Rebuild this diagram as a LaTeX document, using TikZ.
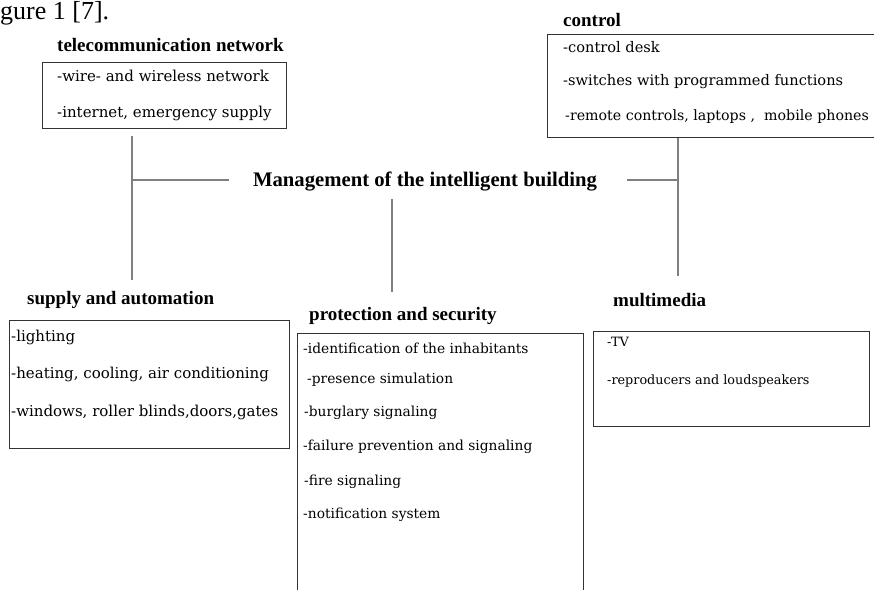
\documentclass[tikz,border=0pt]{standalone}
\usepackage{fontspec}
\setmainfont{Liberation Serif}
\newfontfamily\bodyfont{DejaVu Serif}
\begin{document}
\begin{tikzpicture}[x=1pt,y=-1pt,
  frame/.style={draw=black!80, line width=1.1pt, inner sep=0pt, anchor=north west},
  link/.style={draw=black!50, line width=2.7pt},
  head/.style={font=\fontsize{19}{19}\selectfont\bfseries, inner sep=0pt, anchor=mid west, yshift=-4pt},
  item/.style={font=\bodyfont\fontsize{#1}{#1}\selectfont, inner sep=0pt, anchor=mid west, yshift=-2.5pt},
  title/.style={font=\fontsize{20.7}{21}\selectfont\bfseries, inner sep=0pt, anchor=mid, yshift=-4pt},
]
\useasboundingbox (0,0) rectangle (874,589);

% caption remnant at the top edge
\node[font=\fontsize{26}{26}\selectfont, inner sep=0pt, anchor=base west] (cap) at (0,19) {gure 1 [7].};

% central title
\node[title] (main) at (425,180) {Management of the intelligent building};

% telecommunication network
\node[head] (telhd) at (57,45) {telecommunication network};
\node[frame, minimum width=244pt, minimum height=66pt] (telbox) at (42,62) {};
\node[item=15] (tel1) at (57,77) {-wire- and wireless network};
\node[item=15] (tel2) at (57,113) {-internet, emergency supply};

% control
\node[head] (ctlhd) at (563,20) {control};
\node[frame, minimum width=350pt, minimum height=103pt] (ctlbox) at (547,34) {};
\node[item=14.6] (ctl1) at (563,48) {-control desk};
\node[item=14.6] (ctl2) at (563,81) {-switches with programmed functions};
\node[item=14.2] (ctl3) at (565,116) {-remote controls, laptops ,\ \ mobile phones};

% supply and automation
\node[head] (suphd) at (27,298) {supply and automation};
\node[frame, minimum width=280pt, minimum height=128pt] (supbox) at (9,320) {};
\node[item=15] (sup1) at (11,337) {-lighting};
\node[item=15] (sup2) at (11,374) {-heating, cooling, air conditioning};
\node[item=15] (sup3) at (11,412) {-windows, roller blinds,doors,gates};

% protection and security
\node[head] (prohd) at (309,314) {protection and security};
\node[frame, minimum width=286pt, minimum height=280pt] (probox) at (297,333) {};
\node[item=13.8] (pro1) at (303,349) {-identification of the inhabitants};
\node[item=13.8] (pro2) at (307,379) {-presence simulation};
\node[item=13.8] (pro3) at (304,412) {-burglary signaling};
\node[item=13.8] (pro4) at (303,446) {-failure prevention and signaling};
\node[item=13.8] (pro5) at (304,481) {-fire signaling};
\node[item=13.8] (pro6) at (303,514) {-notification system};

% multimedia
\node[head] (mmhd) at (613,300) {multimedia};
\node[frame, minimum width=276pt, minimum height=95pt] (mmbox) at (593,331) {};
\node[item=12.8] (mm1) at (607,342) {-TV};
\node[item=12.8] (mm2) at (607,380) {-reproducers and loudspeakers};

% connector ends
\coordinate (lt) at (132,136);
\coordinate (lb) at (132,280);
\coordinate (lh) at (229,180);
\coordinate (ct) at (392,199);
\coordinate (cb) at (392,292);
\coordinate (rh) at (627,180);
\coordinate (rb) at (678,276);

% connectors
\draw[link] (lt) -- (lb);
\draw[link] (lt |- lh) -- (lh);
\draw[link] (ct) -- (cb);
\draw[link] (ctlbox.south -| rb) -- (rb);
\draw[link] (rh) -- (rh -| rb);
\end{tikzpicture}
\end{document}
